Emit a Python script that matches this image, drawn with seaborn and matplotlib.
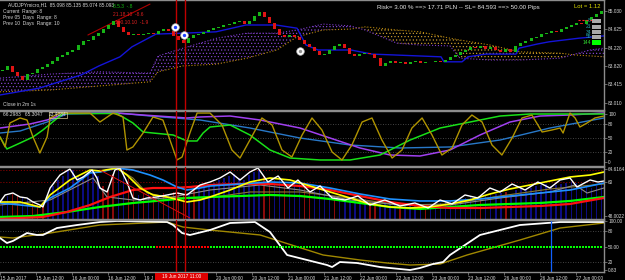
import numpy as np
import matplotlib
matplotlib.use("Agg")
import matplotlib.pyplot as plt
from matplotlib.patches import Rectangle
import seaborn as sns

# ---------------- data ----------------
symbol_header = "AUDJPYmicro,H1  85.098 85.135 85.074 85.093"
range_lines = ["Current  Range: 8", "Prev 05  Days  Range: 8", "Prev 10  Days  Range: 10"]
zz_green = "8.5.3  -.8"
zz_red = ["21.18.10  -8.6", "100.10.10  -1.9"]
risk_text = "Risk= 3.00 % ==> 17.71 PLN -- SL= 84.593 ==> 50.00 Pips"
lot_text = "Lot = 1.12"
fib_labels = ["8", "21", "34", "55", "144"]
timer_text = "Close in 2m 1s"
osc_header = ["66.2983", "65.3047", "23.4084"]

time_hours = [0, 12, 24, 36, 48, 72, 84, 96, 108, 120, 132, 144, 156, 168, 180, 192]
time_labels = ["15 Jun 2017", "15 Jun 12:00", "16 Jun 00:00", "16 Jun 12:00", "19 J",
               "20 Jun 00:00", "20 Jun 12:00", "21 Jun 00:00", "21 Jun 12:00",
               "22 Jun 00:00", "22 Jun 12:00", "23 Jun 00:00", "23 Jun 12:00", "26 Jun 00:00",
               "26 Jun 12:00", "27 Jun 00:00"]
signal_label = "19 Jun 2017 11:00"
signal_hours = [58.7, 61.7]
blue_marker_hour = 183.7
signal_window = (51.7, 70.0)

price_ticks = [85.030, 84.625, 84.220, 83.820, 83.415, 83.010]

first_open = 83.70
closes = [83.730, 83.818, 83.686, 83.598, 83.510, 83.642, 83.664, 83.752, 83.796, 83.862,
          83.928, 84.016, 84.060, 84.126, 84.170, 84.280, 84.368, 84.390, 84.478, 84.544,
          84.632, 84.720, 84.808, 84.676, 84.566, 84.500, 84.522, 84.500, 84.522, 84.544,
          84.522, 84.588, 84.632, 84.588, 84.478, 84.390, 84.324, 84.434, 84.500, 84.522,
          84.566, 84.610, 84.654, 84.676, 84.720, 84.742, 84.786, 84.808, 84.742, 84.808,
          84.918, 85.006, 84.896, 84.764, 84.632, 84.500, 84.456, 84.500, 84.456, 84.390,
          84.302, 84.236, 84.148, 84.060, 84.082, 84.170, 84.258, 84.302, 84.214, 84.082,
          84.038, 84.082, 84.104, 84.082, 83.994, 83.818, 83.884, 83.928, 83.884, 83.906,
          83.862, 83.906, 83.928, 83.884, 83.906, 83.906, 83.928, 83.906, 83.950, 84.016,
          84.060, 84.126, 84.170, 84.236, 84.214, 84.258, 84.192, 84.236, 84.170, 84.126,
          84.192, 84.126, 84.258, 84.324, 84.368, 84.434, 84.456, 84.522, 84.544, 84.588,
          84.566, 84.632, 84.676, 84.720, 84.764, 84.742, 84.830, 84.896, 84.962, 85.028]

cloud_h = [0, 16.7, 33.3, 50, 52.7, 61, 72.3, 82.3, 92.3, 99, 107.7, 116.7, 121.7, 132.3,
           140, 150, 153.3, 163.3, 173.3, 186.7, 191.7, 196.7, 201.3]
span_a = [83.25, 83.29, 83.38, 83.47, 83.69, 83.82, 83.86, 83.99, 84.17, 84.46, 84.61, 84.63,
          84.68, 84.61, 84.57, 84.43, 84.39, 84.28, 84.13, 84.10, 84.06, 84.04, 84.02]
span_b = [83.55, 83.64, 83.69, 83.66, 84.04, 84.21, 84.43, 84.54, 84.54, 84.61, 84.74, 84.70,
          84.61, 84.32, 84.28, 84.26, 83.99, 83.95, 83.95, 83.99, 84.08, 84.17, 84.21]

kijun_h = [0, 13, 27, 33, 40, 44, 52, 61, 72, 82, 92, 99, 102, 106, 117, 124, 147, 148, 154,
           156, 162, 172, 173, 179, 183, 188, 193, 201.3]
kijun_p = [83.18, 83.33, 83.62, 83.82, 84.02, 84.24, 84.52, 84.54, 84.57, 84.72, 84.72, 84.65,
           84.28, 84.17, 84.17, 84.08, 84.02, 83.91, 83.91, 84.02, 84.08, 84.08, 84.21, 84.30,
           84.35, 84.39, 84.43, 84.48]

trend_h = [29.3, 50.0]
trend_p = [84.50, 85.18]
arrow_h = [58.3, 61.3]
arrow_p = [84.676, 84.50]
exit_h, exit_p = 100.0, 84.148
order_h = [192.7, 197.7]
order_p = 84.83

# oscillator panel (0..100)
p2_purple_h = [0, 10, 15.7, 22.3, 39, 47.7, 62.3, 66.7, 76.7, 86.7, 100, 110, 120, 130, 140,
               150, 160, 170, 180, 190, 201.3]
p2_purple_v = [70.8, 79.2, 87.5, 102, 102, 97.9, 91.7, 93.8, 95.8, 87.5, 70.8, 50, 29.2, 14.6,
               12.5, 25, 56.3, 83.3, 95.8, 97.9, 102.1]
p2_blue_h = [0, 6.7, 15.7, 22.3, 39, 50, 66.7, 83.3, 100, 116.7, 133.3, 150, 166.7, 183.3, 201.3]
p2_blue_v = [60.4, 64.6, 83.3, 100, 102.1, 95.8, 87.5, 70.8, 50, 35.4, 29.2, 31.3, 45.8, 70.8, 91.7]
p2_green_h = [0, 2.3, 6.7, 11, 14.3, 21, 39, 44.3, 47.7, 51, 57.7, 62.3, 65.7, 67.7, 70, 76.7,
              83.3, 90, 96.7, 106.7, 116.7, 126.7, 136.7, 146.7, 156.7, 166.7, 176.7, 201.3]
p2_green_v = [52.1, 27.1, 39.6, 52.1, 66.7, 101, 101, 81.3, 62.5, 60.4, 56.3, 43.8, 43.8, 60.4,
              72.9, 77.1, 56.3, 25, 8.3, 4.2, 4.2, 14.6, 45.8, 70.8, 83.3, 95.8, 100, 100]
p2_olive_h = [0, 1.7, 3.3, 6.7, 9, 11, 13.3, 15.7, 16.7, 20, 30, 33.3, 37.7, 41, 42.3, 44.3,
              47.7, 51, 54.3, 59, 60.7, 63.3, 65.7, 70, 74, 77.3, 80, 83.3, 87.3, 90.7, 94,
              97.3, 100.7, 104, 107.3, 110.7, 114, 117.3, 120.7, 124, 127.3, 130.7, 134, 137.3,
              140.7, 144, 147.3, 150.7, 154, 157.3, 160.7, 164, 167.3, 170.7, 174, 177.3, 180.7,
              184, 186.7, 187.7, 190, 191.7, 193.3, 195.7, 198.3, 201.3]
p2_olive_v = [52.1, 31.3, 81.3, 91.7, 87.5, 52.1, 18.8, 52.1, 91.7, 102, 102, 83.3, 102, 93.8,
              25, 31.3, 60.4, 93.8, 87.5, 4.2, 10.4, 60.4, 102, 102, 77.1, 25, 8.3, 45.8, 91.7,
              77.1, 25, 10.4, 56.3, 91.7, 66.7, 20.8, 4.2, 35.4, 83.3, 91.7, 45.8, 8.3, 25,
              70.8, 91.7, 56.3, 14.6, 29.2, 77.1, 97.9, 83.3, 35.4, 14.6, 50, 91.7, 97.9, 62.5,
              66.7, 70.8, 60.4, 102, 91.7, 72.9, 81.3, 91.7, 95.8]

# trend panel
p3_white_h = [0, 1.7, 4.3, 6.7, 9, 11, 13.3, 14.3, 16.7, 20, 23.3, 25.7, 27.7, 30.7, 32.3, 33.3,
              35.7, 38.3, 40, 42.3, 44.3, 46.7, 49, 52.3, 55.7, 59, 62.3, 66.7, 70, 73.3, 76.7,
              80, 83.3, 86, 89.3, 92.7, 96, 99.3, 103.3, 106.7, 110.7, 115, 119.3, 123.3, 128.3,
              133.3, 138.3, 142.7, 146.7, 150.7, 155, 159.3, 163.3, 166.7, 170.7, 175, 179.3,
              183.3, 186.7, 190, 192.3, 196.7, 199.3, 201.3]
p3_white_v = [52.93, 55.41, 56.11, 54.70, 54.35, 52.93, 51.87, 51.17, 57.88, 62.47, 64.59, 60.71,
              61.77, 64.24, 61.41, 57.88, 56.47, 64.24, 64.95, 60.00, 54.35, 53.64, 54.35, 54.70,
              55.41, 56.11, 55.41, 58.94, 60.00, 61.41, 63.53, 60.71, 63.53, 64.95, 60.00, 62.12,
              57.88, 60.71, 56.47, 58.59, 54.35, 53.64, 55.05, 51.87, 53.64, 51.52, 52.58, 50.81,
              53.64, 52.23, 55.41, 54.35, 57.88, 56.47, 59.29, 57.17, 60.00, 57.88, 60.71, 61.41,
              58.23, 60.71, 60.00, 60.35]
p3_yellow_h = [0, 6.7, 13.3, 16.7, 23.3, 30, 33.3, 39, 42.3, 46.7, 51, 55.7, 62.3, 66.7, 70,
               76.7, 83.3, 90, 96.7, 103.3, 110, 116.7, 123.3, 130, 136.7, 143.3, 150, 156.7,
               163.3, 170, 176.7, 183.3, 190, 196.7, 201.3]
p3_yellow_v = [52.93, 52.93, 51.17, 55.41, 60.71, 64.24, 63.89, 64.95, 62.47, 57.88, 55.41, 54.70,
               52.93, 53.64, 54.70, 57.17, 60.00, 61.41, 60.71, 58.59, 56.47, 54.35, 52.23, 51.17,
               50.81, 51.17, 52.23, 53.64, 55.76, 57.53, 58.94, 60.35, 61.77, 62.47, 63.53]
p3_blue_h = [0, 6.7, 13.3, 16.7, 23.3, 30, 33.3, 39, 44.3, 50, 54.3, 59, 62.3, 66.7, 70, 80, 90,
             100, 110, 120, 130, 140, 150, 160, 170, 180, 190, 196.7, 201.3]
p3_blue_v = [52.58, 51.87, 51.17, 54.35, 57.88, 63.18, 63.53, 64.95, 64.24, 62.47, 60.71, 58.23,
             57.17, 57.88, 58.59, 59.29, 60.00, 59.65, 57.88, 55.76, 53.99, 53.29, 53.29, 53.99,
             55.05, 56.11, 57.17, 58.59, 59.65]
p3_red_h = [0, 14.3, 22.3, 30, 36.7, 44.3, 51, 57.7, 63.3, 70, 80, 90, 100, 110, 120, 130, 140,
            150, 160, 170, 180, 190, 201.3]
p3_red_v = [46.93, 47.63, 49.40, 51.87, 54.70, 57.17, 57.88, 57.88, 58.23, 58.94, 59.29, 59.29,
            58.59, 57.17, 55.05, 52.93, 51.52, 50.81, 50.81, 51.17, 51.52, 52.23, 54.35]
p3_green_h = [0, 11, 22.3, 33.3, 44.3, 55.7, 62.3, 70, 80, 90, 100, 110, 120, 130, 140, 150, 160,
              170, 180, 190, 201.3]
p3_green_v = [47.63, 47.98, 49.40, 51.17, 52.58, 53.64, 54.35, 54.70, 55.05, 55.41, 55.05, 53.99,
              52.58, 51.17, 50.46, 51.17, 51.87, 52.23, 52.58, 53.29, 54.70]
p3_grey_h = [0, 16.7, 31, 35.7, 44.3, 55.7, 70, 86.7, 100, 116.7, 133.3, 150, 166.7, 183.3,
             191.7, 195.7, 201.3]
p3_grey_v = [51.87, 53.64, 61.41, 54.70, 53.64, 54.35, 57.17, 58.94, 57.17, 53.64, 51.87, 51.87,
             54.35, 56.47, 58.94, 56.11, 57.88]
p3_khaki_h = [33.3, 39, 44.3, 49, 55.7, 66.7, 83.3, 100, 116.7, 133.3, 150, 166.7, 183.3, 201.3]
p3_khaki_v = [63.53, 64.95, 61.41, 56.11, 54.70, 53.99, 56.47, 56.47, 54.35, 51.87, 52.23, 55.05,
              57.53, 59.29]
p3_trend_h = [33.3, 63.3]
p3_trend_v = [64.24, 47.28]
p3_levels = [64.24, 60.0]
p3_ticks = [64.6164, 60.0, 48.0022]
p3_tick_labels = ["64.6164", "60", "48.0022"]
# histogram: positive = rising (navy), negative = falling (red); magnitude = bar top
p3_hist = [53.6, 55.1, -55.8, -55.4, 54.7, 54.0, -52.6, -51.9, -51.5, 55.4,
           58.6, 60.7, 62.1, 63.9, 64.2, 62.1, 62.1, 63.5, 63.9, 62.1,
           -58.6, -57.2, -62.8, 65.0, 64.6, -61.4, -57.9, 55.4, -55.8, 56.1,
           -55.8, 55.4, -56.1, 55.8, -56.5, -56.5, -55.8, 56.1, -57.2, 57.9,
           58.6, 59.3, 59.7, 60.7, 61.4, 62.1, 62.8, 61.4, 60.7, 62.5,
           63.5, 64.2, -62.1, -60.4, 60.7, 61.4, -58.9, 58.6, 59.7, 59.3,
           -57.9, -57.2, 56.8, 57.5, 57.9, 56.5, -55.1, 54.4, 54.0, 54.7,
           54.4, 55.1, 54.0, -52.9, -52.2, 52.2, 52.9, 52.6, 51.9, -51.5,
           51.5, 52.2, 51.9, 51.5, -51.2, 51.5, 51.9, 52.6, 52.9, 53.3,
           52.9, 53.6, 54.4, 55.1, 54.7, -54.4, 55.1, 56.1, 55.8, 56.1,
           -56.5, 55.8, 57.2, 57.9, 57.5, 57.9, 58.6, 58.9, 59.3, 58.6,
           58.9, 59.3, 59.7, 60.0, 59.7, 59.3, 58.6, 57.9, 58.6, 59.3]

# bottom panel
p4_white_h = [0, 2.3, 4.3, 9, 12.3, 14.3, 19, 25.7, 33.3, 39, 55.7, 57.7, 60.7, 63.3, 70, 76.7,
              85, 90, 95.7, 109, 110.7, 113.3, 119, 126.7, 136.7, 140, 144.3, 147.7, 150, 160,
              173.3, 186.7, 201.3]
p4_white_v = [66.5, 56.8, 60.7, 76.1, 72.3, 72.3, 85.8, 91.6, 97.4, 99.4, 97.4, 91.6, 76.1, 72.3,
              81.9, 95.5, 97.4, 78.0, 33.6, 14.2, 10.3, 20.0, 18.1, 10.3, 4.5, 8.4, 16.1, 20.0,
              33.6, 72.3, 91.6, 97.4, 97.4]
p4_olive_h = [0, 4.3, 16.7, 33.3, 55.7, 61, 70, 86.7, 107.7, 120, 129, 136.7, 146.7, 155.7,
              173.3, 186.7, 201.3]
p4_olive_v = [68.4, 66.5, 76.1, 91.6, 97.4, 87.7, 81.9, 72.3, 33.6, 23.9, 18.1, 14.2, 16.1, 33.6,
              62.6, 85.8, 95.5]
p4_signal_level = 50
p4_ticks = [100, 80, 50, 20, 4.5]
p4_tick_labels = ["100.00", "80", "50.00", "20", "0.83"]

# ---------------- style ----------------
sns.set_theme(style="dark")
plt.rcParams.update({
    'figure.facecolor': 'black', 'axes.facecolor': 'black', 'savefig.facecolor': 'black',
    'hatch.linewidth': 0.45, 'axes.grid': False,
})
plt.rcParams['font.family'] = ['Liberation Sans', 'DejaVu Sans']

W, H = 625, 280
PW = 604
XMAX = PW / 3.0
BAR_H = XMAX / len(closes)
GREY = '#8c8c8c'
LBL = '#d8d8d8'

fig = plt.figure(figsize=(W / 100, H / 100), dpi=100)


def panel(top, bottom):
    ax = fig.add_axes([0, 1 - bottom / H, PW / W, (bottom - top) / H])
    ax.set_facecolor('black')
    ax.spines['left'].set_visible(False)
    for s in ('top', 'bottom', 'right'):
        ax.spines[s].set_color(GREY)
        ax.spines[s].set_linewidth(1.0)
    return ax


def finish(ax, ticks, labels, ylim):
    ax.set_xlim(0, XMAX)
    ax.set_ylim(*ylim)
    ax.yaxis.tick_right()
    ax.set_yticks(ticks)
    ax.set_yticklabels(labels)
    ax.tick_params(axis='y', right=True, left=False, labelright=True, labelleft=False,
                   colors=GREY, labelcolor=LBL, labelsize=3.4, length=2, width=0.5, pad=1)
    ax.tick_params(axis='x', bottom=False, labelbottom=False)
    ax.set_xlabel('')
    ax.set_ylabel('')
    for h in signal_hours:
        ax.axvline(h, color='#c00000', lw=1.0, zorder=6)


def line(ax, xs, ys, color, lw=1.0, **kw):
    sns.lineplot(x=xs, y=ys, ax=ax, color=color, linewidth=lw, estimator=None, sort=False,
                 legend=False, **kw)


def ftext(px, py, s, color, size=3.5, ha='left', va='center', **kw):
    fig.text(px / W, 1 - py / H, s, color=color, fontsize=size, ha=ha, va=va, **kw)


# ---------------- main panel ----------------
ax1 = panel(0, 110)
ch = np.array(cloud_h)
a = np.array(span_a)
b = np.array(span_b)
ax1.fill_between(ch, a, b, where=b >= a, interpolate=True, facecolor='none',
                 edgecolor='#8a48d8', hatch='.....', linewidth=0)
ax1.fill_between(ch, a, b, where=a > b, interpolate=True, facecolor='none',
                 edgecolor='#d0a030', hatch='.....', linewidth=0)
line(ax1, cloud_h, span_a, '#b8860b', 0.8, linestyle=':')
line(ax1, cloud_h, span_b, '#7a38c8', 0.8, linestyle=':')
line(ax1, kijun_h, kijun_p, '#1414d8', 1.0)

c = np.array(closes)
o = np.array([first_open] + closes[:-1])
xb = (np.arange(len(c)) + 0.5) * BAR_H
up = c >= o
body = np.maximum(np.abs(c - o), 0.008)
ax1.bar(xb[up], body[up], bottom=np.minimum(o, c)[up], width=1.0, color='#16b416', linewidth=0, zorder=3)
ax1.bar(xb[~up], body[~up], bottom=np.minimum(o, c)[~up], width=1.0, color='#e01414', linewidth=0, zorder=3)

line(ax1, trend_h, trend_p, '#b00000', 0.8)
ax1.plot(order_h, [order_p, order_p], color='#ff2020', lw=0.8, ls=(0, (2, 1.5)), zorder=4)
ax1.scatter(arrow_h, arrow_p, s=30, c='white', edgecolors='#b0b0b0', linewidths=0.5, zorder=7)
ax1.scatter(arrow_h, arrow_p, s=6, c='#2040ff', linewidths=0, zorder=8)
ax1.scatter([exit_h], [exit_p], s=30, c='white', edgecolors='#b0b0b0', linewidths=0.5, zorder=7)
ax1.scatter([exit_h], [exit_p], s=6, c='#909090', linewidths=0, zorder=8)
finish(ax1, price_ticks, [f"{p:.3f}" for p in price_ticks], (82.85, 85.27))

# ---------------- oscillator panel ----------------
ax2 = panel(111, 166)
for lv in (80, 50, 20):
    ax2.axhline(lv, color='#5a5a5a', lw=0.6, ls=(0, (1, 2)))
line(ax2, p2_blue_h, p2_blue_v, '#2878c8', 1.0)
line(ax2, p2_purple_h, p2_purple_v, '#a040f0', 1.1)
line(ax2, p2_green_h, p2_green_v, '#18e018', 1.1)
line(ax2, p2_olive_h, p2_olive_v, '#b09400', 1.0)
finish(ax2, [100, 80, 50, 20, 0], ["100", "80", "50", "20", "0"], (-8.33, 106.25))

# ---------------- trend panel ----------------
ax3 = panel(167, 219)
hist = np.array(p3_hist)
base = 46.92
rise = hist > 0
ax3.bar(xb[rise], np.abs(hist[rise]) - base, bottom=base, width=0.5, color='#0c0c80', linewidth=0)
ax3.bar(xb[~rise], np.abs(hist[~rise]) - base, bottom=base, width=0.5, color='#8a0a0a', linewidth=0)
for lv in p3_levels:
    ax3.axhline(lv, color='#a00000', lw=0.7, ls=(0, (1, 2)))
line(ax3, p3_khaki_h, p3_khaki_v, '#8a7a30', 0.8)
line(ax3, p3_grey_h, p3_grey_v, '#8a8a8a', 0.8)
line(ax3, p3_green_h, p3_green_v, '#00ff00', 1.6)
line(ax3, p3_red_h, p3_red_v, '#ff1010', 1.6)
line(ax3, p3_blue_h, p3_blue_v, '#1e90ff', 1.2)
line(ax3, p3_yellow_h, p3_yellow_v, '#ffff00', 1.2)
line(ax3, p3_white_h, p3_white_v, '#ffffff', 1.0)
line(ax3, p3_trend_h, p3_trend_v, '#e01010', 0.7)
finish(ax3, p3_ticks, p3_tick_labels, (46.92, 65.30))

# ---------------- bottom panel ----------------
ax4 = panel(220, 272)
for lv in (80, 20):
    ax4.axhline(lv, color='#5a5a5a', lw=0.6, ls=(0, (1, 2)))
dots = np.arange(0.5, XMAX, 1.0)
in_sig = (dots >= signal_window[0]) & (dots <= signal_window[1])
ax4.scatter(dots[~in_sig], np.full((~in_sig).sum(), p4_signal_level), marker='s', s=2.2,
            c='#00ff00', linewidths=0, zorder=3)
ax4.scatter(dots[in_sig], np.full(in_sig.sum(), p4_signal_level), marker='s', s=2.2,
            c='#ff0000', linewidths=0, zorder=3)
line(ax4, p4_olive_h, p4_olive_v, '#a08800', 1.0)
line(ax4, p4_white_h, p4_white_v, '#ffffff', 1.3)
ax4.axvline(blue_marker_hour, color='#1060ff', lw=0.9)
finish(ax4, p4_ticks, p4_tick_labels, (0.67, 101.3))
ax4.set_xticks(time_hours)
ax4.set_xticklabels(time_labels, ha='left')
ax4.tick_params(axis='x', bottom=True, labelbottom=True, colors=GREY, labelcolor=LBL,
                labelsize=3.4, length=2, width=0.5, pad=1)

# red time marker box on the time scale
fig.add_artist(Rectangle((155 / W, 0), 53 / W, 7.5 / H, transform=fig.transFigure,
                         facecolor='#e00000', edgecolor='none', zorder=10))
fig.text(181.5 / W, 1 - 276.5 / H, signal_label, color='#ffffff', fontsize=3.4,
         ha='center', va='center', zorder=11)

# ---------------- overlay texts ----------------
ftext(8, 5, symbol_header, LBL)
for i, s in enumerate(range_lines):
    ftext(3, 12 + 6 * i, s, LBL)
ftext(113, 6, zz_green, '#10c010')
ftext(113, 14, zz_red[0], '#e02020')
ftext(115, 22, zz_red[1], '#e02020')
ftext(377, 7, risk_text, '#e8e8e8', size=4.4)
ftext(601, 7, lot_text, '#e0e000', size=4.2, ha='right')
ftext(3, 105, timer_text, LBL)
ftext(3, 115, "   ".join(osc_header[:2]), LBL)
ftext(49, 115, osc_header[2], LBL, bbox=dict(boxstyle='square,pad=0.1', facecolor='none',
                                              edgecolor='#d8c890', linewidth=0.5))
box_rows = [21, 27, 32, 37, 42.5]
for i, (s, yy) in enumerate(zip(fib_labels, box_rows)):
    last = i == len(fib_labels) - 1
    ftext(591, yy, s, '#30e030' if last else '#20a8b0', size=3.6, ha='right')
    hgt = 5 if last else 4
    fig.add_artist(Rectangle((592 / W, 1 - (yy + hgt / 2) / H), 9 / W, hgt / H,
                             transform=fig.transFigure, facecolor='#00ff00' if last else '#a8a8a8',
                             edgecolor='none'))

fig.savefig("out.png", dpi=100, facecolor='black')
